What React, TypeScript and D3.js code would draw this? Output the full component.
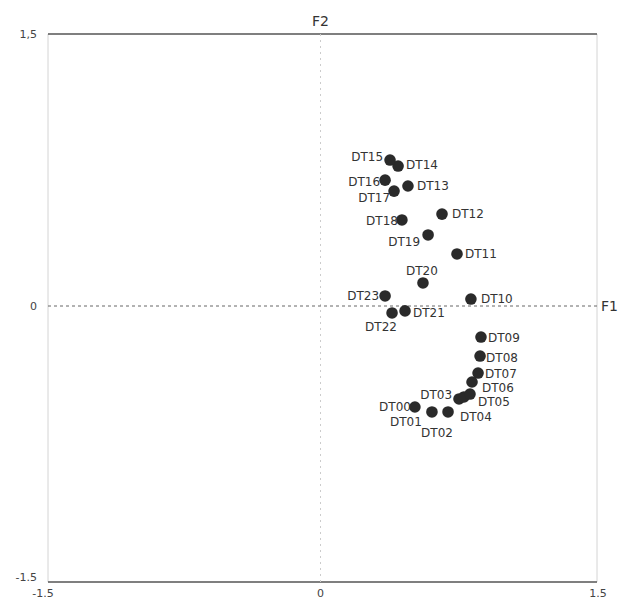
import * as d3 from "d3";

const WIDTH = 619;
const HEIGHT = 601;
const MARGIN = { top: 34, right: 22, bottom: 19, left: 48 };

// factor-plane coordinates of each hour
const names = [
  "DT00", "DT01", "DT02", "DT03", "DT04", "DT05", "DT06", "DT07",
  "DT08", "DT09", "DT10", "DT11", "DT12", "DT13", "DT14", "DT15",
  "DT16", "DT17", "DT18", "DT19", "DT20", "DT21", "DT22", "DT23",
];
const f1 = [
  0.505, 0.598, 0.686, 0.746, 0.773, 0.806, 0.817, 0.850,
  0.861, 0.866, 0.811, 0.735, 0.653, 0.467, 0.413, 0.369,
  0.342, 0.391, 0.434, 0.577, 0.549, 0.451, 0.380, 0.342,
];
const f2 = [
  -0.542, -0.569, -0.569, -0.498, -0.487, -0.471, -0.405, -0.356,
  -0.263, -0.159, 0.049, 0.296, 0.514, 0.668, 0.777, 0.810,
  0.700, 0.640, 0.482, 0.400, 0.137, -0.016, -0.027, 0.066,
];

const xTicks = [-1.5, 0, 1.5];
const yTickLabels = ["1,5", "0", "-1.5"];
const yTickValues = [1.5, 0, -1.5];

// where each label sits relative to its dot
const LABEL_POS: Record<string, [number, number, string]> = {
  DT00: [-4, 4, "end"],
  DT01: [-26, 14, "middle"],
  DT02: [-11, 25, "middle"],
  DT03: [-7, 0, "end"],
  DT04: [-4, 24, "start"],
  DT05: [8, 12, "start"],
  DT06: [10, 10, "start"],
  DT07: [7, 5, "start"],
  DT08: [6, 6, "start"],
  DT09: [7, 5, "start"],
  DT10: [10, 4, "start"],
  DT11: [8, 4, "start"],
  DT12: [10, 4, "start"],
  DT13: [9, 4, "start"],
  DT14: [8, 3, "start"],
  DT15: [-7, 1, "end"],
  DT16: [-5, 6, "end"],
  DT17: [-4, 11, "end"],
  DT18: [-4, 5, "end"],
  DT19: [-8, 11, "end"],
  DT20: [-1, -8, "middle"],
  DT21: [8, 6, "start"],
  DT22: [-11, 18, "middle"],
  DT23: [-6, 4, "end"],
};

export default function App() {
  const boundsW = WIDTH - MARGIN.left - MARGIN.right;
  const boundsH = HEIGHT - MARGIN.top - MARGIN.bottom;

  const x = d3.scaleLinear().domain([-1.5, 1.5]).range([MARGIN.left, MARGIN.left + boundsW]);
  const y = d3.scaleLinear().domain([-1.5, 1.5]).range([MARGIN.top + boundsH, MARGIN.top]);

  const font = "'DejaVu Sans', sans-serif";
  const points = names.map((n, i) => ({ name: n, cx: x(f1[i]), cy: y(f2[i]) }));

  return (
    <svg
      width={WIDTH}
      height={HEIGHT}
      style={{ position: "absolute", left: 0, top: 0, background: "#fff" }}
      fontFamily={font}
    >
      {/* frame: faint sides, darker top / bottom */}
      <line x1={x(-1.5)} x2={x(-1.5)} y1={y(1.5)} y2={y(-1.5)} stroke="#d4d4d4" strokeWidth={1} />
      <line x1={x(1.5)} x2={x(1.5)} y1={y(1.5)} y2={y(-1.5)} stroke="#d4d4d4" strokeWidth={1} />
      <line x1={x(-1.5)} x2={x(1.5)} y1={y(1.5)} y2={y(1.5)} stroke="#555" strokeWidth={1.4} />
      <line x1={x(-1.5)} x2={x(1.5)} y1={y(-1.5)} y2={y(-1.5)} stroke="#555" strokeWidth={1.4} />

      {/* zero axes */}
      <line x1={x(0) - 2} x2={x(0) - 2} y1={y(1.5)} y2={y(-1.5)} stroke="#cccccc" strokeDasharray="2,4" />
      <line x1={x(-1.5)} x2={x(1.5)} y1={y(0) - 2} y2={y(0) - 2} stroke="#666" strokeDasharray="3,3" />

      {/* tick labels */}
      {yTickValues.map((v, i) => (
        <text
          key={"y" + i}
          x={MARGIN.left - 11}
          y={y(v) + (v === -1.5 ? -1 : v === 0 ? 2 : 4)}
          textAnchor="end"
          fontSize={11}
          fill="#444"
        >
          {yTickLabels[i]}
        </text>
      ))}
      {xTicks.map((v, i) => (
        <text
          key={"x" + i}
          x={x(v) + (v === -1.5 ? -5 : v === 0 ? -2 : 1)}
          y={HEIGHT - 4}
          textAnchor="middle"
          fontSize={11}
          fill="#444"
        >
          {v === 0 ? "0" : String(v)}
        </text>
      ))}

      {/* axis names */}
      <text x={x(0) - 2} y={y(1.5) - 8} textAnchor="middle" fontSize={14} fill="#333">
        F2
      </text>
      <text x={x(1.5) + 4} y={y(0) + 3} fontSize={14} fill="#333">
        F1
      </text>

      {/* points */}
      {points.map((p) => (
        <circle key={p.name} cx={p.cx} cy={p.cy} r={5.8} fill="#2a2a2a" />
      ))}
      {points.map((p) => {
        const [dx, dy, anchor] = LABEL_POS[p.name];
        return (
          <text
            key={"l" + p.name}
            x={p.cx + dx}
            y={p.cy + dy}
            textAnchor={anchor}
            fontSize={12}
            fill="#333"
          >
            {p.name}
          </text>
        );
      })}
    </svg>
  );
}
